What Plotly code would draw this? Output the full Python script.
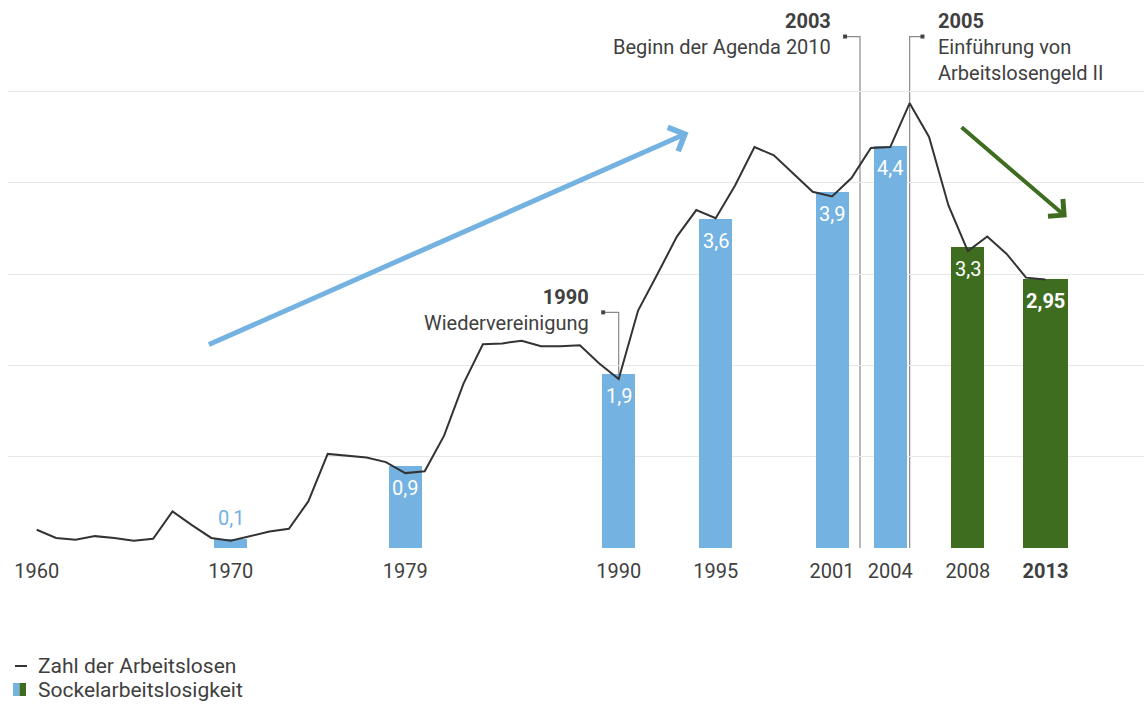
import plotly.graph_objects as go

# ---------------- data ----------------
line_years = list(range(1960, 2013))
unemployed = [0.20, 0.11, 0.09, 0.13, 0.11, 0.08, 0.10, 0.40, 0.25, 0.11,
              0.08, 0.13, 0.18, 0.21, 0.51, 1.03, 1.01, 0.99, 0.94, 0.82,
              0.84, 1.23, 1.80, 2.23, 2.24, 2.27, 2.21, 2.21, 2.22, 2.02,
              1.85, 2.60, 3.00, 3.41, 3.70, 3.61, 3.97, 4.39, 4.30, 4.10,
              3.90, 3.85, 4.05, 4.38, 4.39, 4.87, 4.50, 3.75, 3.25, 3.41,
              3.22, 2.96, 2.94]

bar_years = [1970, 1979, 1990, 1995, 2001, 2004, 2008, 2013]
bar_values = [0.1, 0.9, 1.9, 3.6, 3.9, 4.4, 3.3, 2.95]
bar_labels = ["0,1", "0,9", "1,9", "3,6", "3,9", "4,4", "3,3", "2,95"]

first_year_label = 1960
legend_line = "Zahl der Arbeitslosen"
legend_bar = "Sockelarbeitslosigkeit"

# ---------------- styles ----------------
BLUE = "#74B2E2"
GREEN = "#3E6D1F"
LINE = "#333333"
TEXT = "#404040"
GRID = "#E8E8E8"
CONN = "#8A8A8A"
FONT = "Roboto"

# the last bar sits at the end of the line
bar_x = [min(y, line_years[-1]) for y in bar_years]
bar_widths = [1.7] * (len(bar_years) - 1) + [2.3]
bar_colors = [BLUE if y < 2005 else GREEN for y in bar_years]

# plot geometry (pixels)
W, H = 1144, 705
ML, MB = 8, 157
PH = H - MB
X0, X1 = 1958.52, 2017.08
Y0, Y1 = 0.0, 6.0


def px_x(px):
    return (px - ML) / (W - ML)


def px_y(py):
    return (PH - py) / PH


fig = go.Figure()

fig.add_trace(go.Bar(
    x=bar_x, y=bar_values, width=bar_widths,
    marker=dict(color=bar_colors, line=dict(width=0)),
    showlegend=False, hoverinfo="skip",
))

fig.add_trace(go.Scatter(
    x=line_years, y=unemployed, mode="lines",
    line=dict(color=LINE, width=2),
    showlegend=False, hoverinfo="skip",
))

# bar value labels
for xb, v, lab, c in zip(bar_x, bar_values, bar_labels, bar_colors):
    bold = (xb == bar_x[-1])
    txt = f"<b>{lab}</b>" if bold else lab
    if v < 0.5:
        fig.add_annotation(x=xb, y=v, text=txt, showarrow=False, yshift=21,
                           font=dict(family=FONT, size=20, color=c))
    else:
        fig.add_annotation(x=xb, y=v, text=txt, showarrow=False, yshift=-22,
                           font=dict(family=FONT, size=20, color="white"))

# event connectors
line_at = dict(zip(line_years, unemployed))
events = [
    # (vertical x, top y, dot x, bottom y, text, text x, anchor, text y)
    (2002.44, 5.60, 2001.67, 0.0, "<b>2003</b><br>Beginn der Agenda 2010", 2001.05, "right", 5.92),
    (2005.0, 5.60, 2005.66, 0.0, "<b>2005</b><br>Einführung von<br>Arbeitslosengeld II", 2006.35, "left", 5.92),
    (1990.0, 2.58, 1989.2, line_at[1990], "<b>1990</b><br>Wiedervereinigung", 1988.55, "right", 2.90),
]
for vx, ty, dx, by, txt, tx, anc, tyy in events:
    fig.add_shape(type="path",
                  path=f"M {dx},{ty} L {vx},{ty} L {vx},{by}",
                  xref="x", yref="y", line=dict(color=CONN, width=1.2),
                  layer="below")
    fig.add_annotation(x=tx, y=tyy, text=txt, showarrow=False,
                       xanchor=anc, yanchor="top", align=anc,
                       font=dict(family=FONT, size=20, color=TEXT))

fig.add_trace(go.Scatter(
    x=[e[2] for e in events], y=[e[1] for e in events], mode="markers",
    marker=dict(symbol="square", size=4, color="#444444"),
    showlegend=False, hoverinfo="skip",
))

# trend arrows
fig.add_annotation(x=1993.6, y=4.55, ax=1968.8, ay=2.22,
                   xref="x", yref="y", axref="x", ayref="y", text="",
                   showarrow=True, arrowhead=4, arrowsize=1.0, arrowwidth=5,
                   arrowcolor=BLUE)
fig.add_annotation(x=2013.1, y=3.62, ax=2007.6, ay=4.62,
                   xref="x", yref="y", axref="x", ayref="y", text="",
                   showarrow=True, arrowhead=4, arrowsize=1.1, arrowwidth=4,
                   arrowcolor=GREEN)

# manual legend
fig.add_shape(type="line", xref="paper", yref="paper",
              x0=px_x(15), x1=px_x(27), y0=px_y(666), y1=px_y(666),
              line=dict(color=LINE, width=2))
fig.add_shape(type="rect", xref="paper", yref="paper",
              x0=px_x(13), x1=px_x(19.5), y0=px_y(696), y1=px_y(683),
              fillcolor=BLUE, line=dict(width=0))
fig.add_shape(type="rect", xref="paper", yref="paper",
              x0=px_x(19.5), x1=px_x(26), y0=px_y(696), y1=px_y(683),
              fillcolor=GREEN, line=dict(width=0))
fig.add_annotation(x=px_x(36), y=px_y(666), xref="paper", yref="paper",
                   text=legend_line, showarrow=False, xanchor="left", yanchor="middle",
                   font=dict(family=FONT, size=21, color=TEXT))
fig.add_annotation(x=px_x(36), y=px_y(690), xref="paper", yref="paper",
                   text=legend_bar, showarrow=False, xanchor="left", yanchor="middle",
                   font=dict(family=FONT, size=21, color=TEXT))

tickvals = [first_year_label] + bar_x
ticktext = [str(first_year_label)] + [str(y) for y in bar_years[:-1]] + [f"<b>{bar_years[-1]}</b>"]

fig.update_layout(
    width=W, height=H,
    margin=dict(l=ML, r=0, t=0, b=MB, pad=0),
    paper_bgcolor="white", plot_bgcolor="white",
    showlegend=False,
    bargap=0,
    font=dict(family=FONT, color=TEXT),
    xaxis=dict(range=[X0, X1], tickvals=tickvals, ticktext=ticktext,
               showgrid=False, zeroline=False, showline=False,
               ticks="outside", ticklen=5, tickcolor="rgba(0,0,0,0)",
               tickfont=dict(family=FONT, size=20, color=TEXT)),
    yaxis=dict(range=[Y0, Y1], tickvals=[0, 1, 2, 3, 4, 5],
               showticklabels=False, showgrid=True, gridcolor=GRID, gridwidth=1,
               zeroline=False, showline=False, ticks=""),
)

fig.write_html("out.html")
